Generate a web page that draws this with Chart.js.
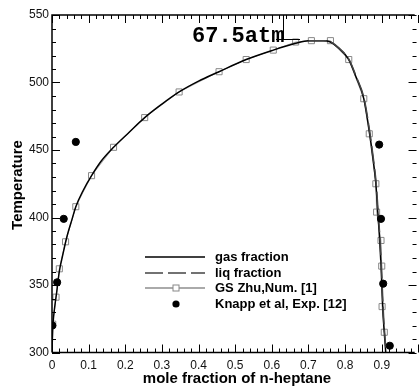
<!doctype html>
<html lang="en">
  <head>
    <meta charset="utf-8">
    <title>67.5atm phase envelope</title>
    <style>
      * { margin: 0; padding: 0; }
      body { background: white; }
      .chartBox { width: 420px; height: 387px; }
    </style>
  </head>
  <body>
    <div class="chartBox">
      <canvas id="myChart" width="420" height="387"></canvas>
    </div>

    <script src="https://cdn.jsdelivr.net/npm/chart.js/dist/chart.umd.min.js"></script>
    <script>
    // data
    const gasX = [0.000, 0.001, 0.003, 0.008, 0.013, 0.020, 0.030, 0.040, 0.055, 0.065, 0.085, 0.108, 0.135, 0.168, 0.210, 0.253, 0.300, 0.347, 0.400, 0.456, 0.530, 0.604, 0.665, 0.700, 0.740, 0.760, 0.780, 0.810, 0.830, 0.851, 0.866, 0.876, 0.884, 0.889, 0.894, 0.898, 0.901, 0.904, 0.908, 0.911];
    const gasT = [300, 310, 322, 335, 345, 360, 373, 385, 399, 408, 420, 431, 442, 452, 463, 474, 484, 493, 501, 508, 517, 524, 529, 531, 531, 530, 526, 517, 504, 488, 464, 444, 425, 405, 385, 365, 345, 327, 311, 300];

    const liqX = [0.700, 0.740, 0.761, 0.781, 0.811, 0.831, 0.852, 0.867, 0.877, 0.885, 0.890, 0.895, 0.899, 0.902, 0.905, 0.909, 0.912];
    const liqT = [531, 531, 530, 526, 517, 504, 488, 464, 444, 425, 405, 385, 365, 345, 327, 311, 300];

    const zhuX = [0.002, 0.011, 0.020, 0.037, 0.065, 0.108, 0.168, 0.253, 0.347, 0.456, 0.530, 0.604, 0.665, 0.708, 0.760, 0.810, 0.851, 0.866, 0.884, 0.886, 0.898, 0.900, 0.901, 0.907];
    const zhuT = [321, 341, 362, 382, 408, 431, 452, 474, 493, 508, 517, 524, 530, 531, 531, 517, 488, 462, 425, 404, 383, 364, 334, 315];

    const knappX = [0.001, 0.014, 0.032, 0.065, 0.893, 0.898, 0.904, 0.922];
    const knappT = [320, 352, 399, 456, 454, 399, 351, 305];

    const seriesNames = ['gas fraction', 'liq fraction', 'GS Zhu,Num. [1]', 'Knapp et al, Exp. [12]'];
    const titleText = '67.5atm';
    const xTitle = 'mole fraction of n-heptane';
    const yTitle = 'Temperature';

    const pts = (xs, ys) => xs.map((v, i) => ({ x: v, y: ys[i] }));

    // frame, inward ticks, titles, legend
    const decor = {
      id: 'decor',
      afterDraw(chart) {
        const { ctx, chartArea: a, scales: { x, y } } = chart;
        ctx.save();
        ctx.strokeStyle = '#000';
        ctx.lineWidth = 1.5;
        ctx.beginPath();
        ctx.moveTo(a.left, a.bottom); ctx.lineTo(a.left, a.top); ctx.lineTo(a.right, a.top);
        ctx.moveTo(a.left, a.bottom); ctx.lineTo(a.right, a.bottom);
        ctx.stroke();

        ctx.lineWidth = 1;
        const xr = x.getPixelForValue(0.995);
        ctx.beginPath();
        for (let v = 0; v <= 100; v += 2) {
          const px = Math.round(x.getPixelForValue(v / 100)) + 0.5;
          const len = v % 10 === 0 ? 8 : 4;
          ctx.moveTo(px, a.bottom); ctx.lineTo(px, a.bottom - len);
          ctx.moveTo(px, a.top); ctx.lineTo(px, a.top + len);
        }
        for (let t = 300; t <= 550; t += 10) {
          const py = Math.round(y.getPixelForValue(t)) + 0.5;
          const len = t % 50 === 0 ? 8 : 4;
          ctx.moveTo(a.left, py); ctx.lineTo(a.left + len, py);
          ctx.moveTo(xr, py); ctx.lineTo(xr - len, py);
        }
        // pointer line of the label
        ctx.moveTo(283.5, a.top); ctx.lineTo(283.5, 39.5);
        ctx.moveTo(276, 39.5); ctx.lineTo(300, 39.5);
        ctx.stroke();

        // label
        ctx.fillStyle = '#000';
        ctx.font = 'bold 22px "Liberation Mono", monospace';
        ctx.textAlign = 'left';
        ctx.textBaseline = 'alphabetic';
        ctx.fillText(titleText, 192, 42);

        // axis titles
        ctx.font = 'bold 15px "Liberation Sans", Arial, sans-serif';
        ctx.textAlign = 'center';
        ctx.fillText(xTitle, 237, 383);
        ctx.save();
        ctx.translate(22, 185);
        ctx.rotate(-Math.PI / 2);
        ctx.fillText(yTitle, 0, 0);
        ctx.restore();

        // legend
        const lx0 = 145, lx1 = 205, tx = 215;
        const rows = [257, 273, 288, 304];
        ctx.lineWidth = 1.5;
        ctx.strokeStyle = '#000';
        ctx.beginPath(); ctx.moveTo(lx0, rows[0]); ctx.lineTo(lx1, rows[0]); ctx.stroke();
        ctx.strokeStyle = '#444';
        ctx.setLineDash([18, 5]);
        ctx.beginPath(); ctx.moveTo(lx0, rows[1]); ctx.lineTo(lx1, rows[1]); ctx.stroke();
        ctx.setLineDash([]);
        ctx.strokeStyle = '#aaa';
        ctx.lineWidth = 2;
        ctx.beginPath(); ctx.moveTo(lx0, rows[2]); ctx.lineTo(lx1, rows[2]); ctx.stroke();
        ctx.fillStyle = '#fff';
        ctx.strokeStyle = '#888';
        ctx.lineWidth = 1;
        ctx.fillRect(173, rows[2] - 3, 6, 6);
        ctx.strokeRect(173, rows[2] - 3, 6, 6);
        ctx.fillStyle = '#000';
        ctx.beginPath(); ctx.arc(176, rows[3], 3.6, 0, Math.PI * 2); ctx.fill();

        ctx.font = 'bold 13px "Liberation Sans", Arial, sans-serif';
        ctx.textAlign = 'left';
        ctx.textBaseline = 'middle';
        seriesNames.forEach((s, i) => ctx.fillText(s, tx, rows[i]));
        ctx.restore();
      }
    };

    const config = {
      type: 'scatter',
      data: {
        datasets: [
          {
            label: seriesNames[3],
            data: pts(knappX, knappT),
            pointStyle: 'circle',
            pointRadius: 3.6,
            backgroundColor: '#000',
            borderColor: '#000',
            order: 0
          },
          {
            label: seriesNames[0],
            data: pts(gasX, gasT),
            showLine: true,
            pointRadius: 0,
            borderColor: '#000',
            borderWidth: 1.5,
            cubicInterpolationMode: 'monotone',
            order: 2
          },
          {
            label: seriesNames[1],
            data: pts(liqX, liqT),
            showLine: true,
            pointRadius: 0,
            borderColor: '#444',
            borderWidth: 1.5,
            borderDash: [18, 5],
            cubicInterpolationMode: 'monotone',
            order: 1
          },
          {
            label: seriesNames[2],
            data: pts(zhuX, zhuT),
            showLine: true,
            pointStyle: 'rect',
            pointRadius: 4.3,
            pointBorderColor: '#888',
            pointBackgroundColor: 'rgba(255,255,255,0)',
            pointBorderWidth: 1,
            borderColor: '#aaa',
            borderWidth: 1,
            order: 3
          }
        ]
      },
      options: {
        responsive: false,
        animation: false,
        events: [],
        layout: { padding: { top: 15, right: 0, left: 0, bottom: 0 } },
        plugins: { legend: { display: false }, tooltip: { enabled: false } },
        scales: {
          x: {
            type: 'linear',
            min: 0,
            max: 0.99,
            grid: { display: false, drawTicks: false },
            border: { display: false },
            ticks: {
              stepSize: 0.1,
              includeBounds: false,
              padding: 6,
              color: '#111',
              font: { family: '"Liberation Sans", Arial, sans-serif', size: 12 },
              maxRotation: 0
            },
            afterFit: s => { s.height = 34.5; }
          },
          y: {
            min: 300,
            max: 550,
            grid: { display: false, drawTicks: false },
            border: { display: false },
            ticks: {
              stepSize: 50,
              padding: 3,
              color: '#111',
              font: { family: '"Liberation Sans", Arial, sans-serif', size: 12 }
            },
            afterFit: s => { s.width = 52; }
          }
        }
      },
      plugins: [decor]
    };

    const myChart = new Chart(document.getElementById('myChart'), config);
    </script>
  </body>
</html>
